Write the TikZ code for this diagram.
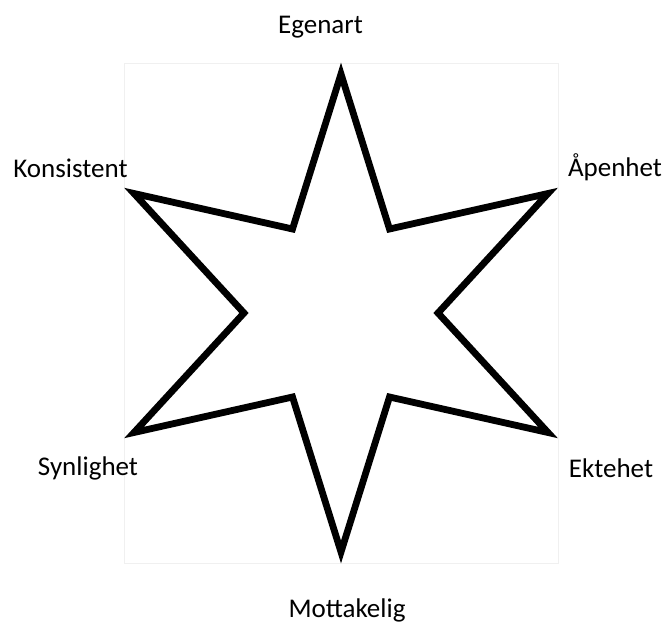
\documentclass[tikz,border=0pt]{standalone}
\usepackage{fontspec}
\setmainfont{Carlito}
\usepackage{tikz}
\usetikzlibrary{calc}
\tikzset{lbl/.style={anchor=base, inner sep=0pt, font=\fontsize{13.5}{16}\selectfont}}

\begin{document}
\begin{tikzpicture}[x=0.5pt, y=0.5pt, line width=3.4pt]
  \useasboundingbox (0,0) rectangle (669,623);
  \draw[gray!12, line width=0.5pt] (124,60) rectangle (558,560);
  \coordinate (mid) at (341,310);
  \foreach \i in {0,...,5} {
    \coordinate (tip\i) at ($(mid)+(90+60*\i:239)$);
    \coordinate (dip\i) at ($(mid)+(120+60*\i:97)$);
  }
  \draw[fill=white, miter limit=10] (tip0) -- (dip0) -- (tip1) -- (dip1) -- (tip2) -- (dip2)
    -- (tip3) -- (dip3) -- (tip4) -- (dip4) -- (tip5) -- (dip5) -- cycle;
  \node[lbl] (egenart) at (320.5,589) {Egenart};
  \node[lbl] (konsistent) at (70.5,446) {Konsistent};
  \node[lbl] (apenhet) at (615,447) {Åpenhet};
  \node[lbl] (synlighet) at (88,148) {Synlighet};
  \node[lbl] (ektehet) at (611,146) {Ektehet};
  \node[lbl] (mottakelig) at (347,6) {Mottakelig};
\end{tikzpicture}
\end{document}
